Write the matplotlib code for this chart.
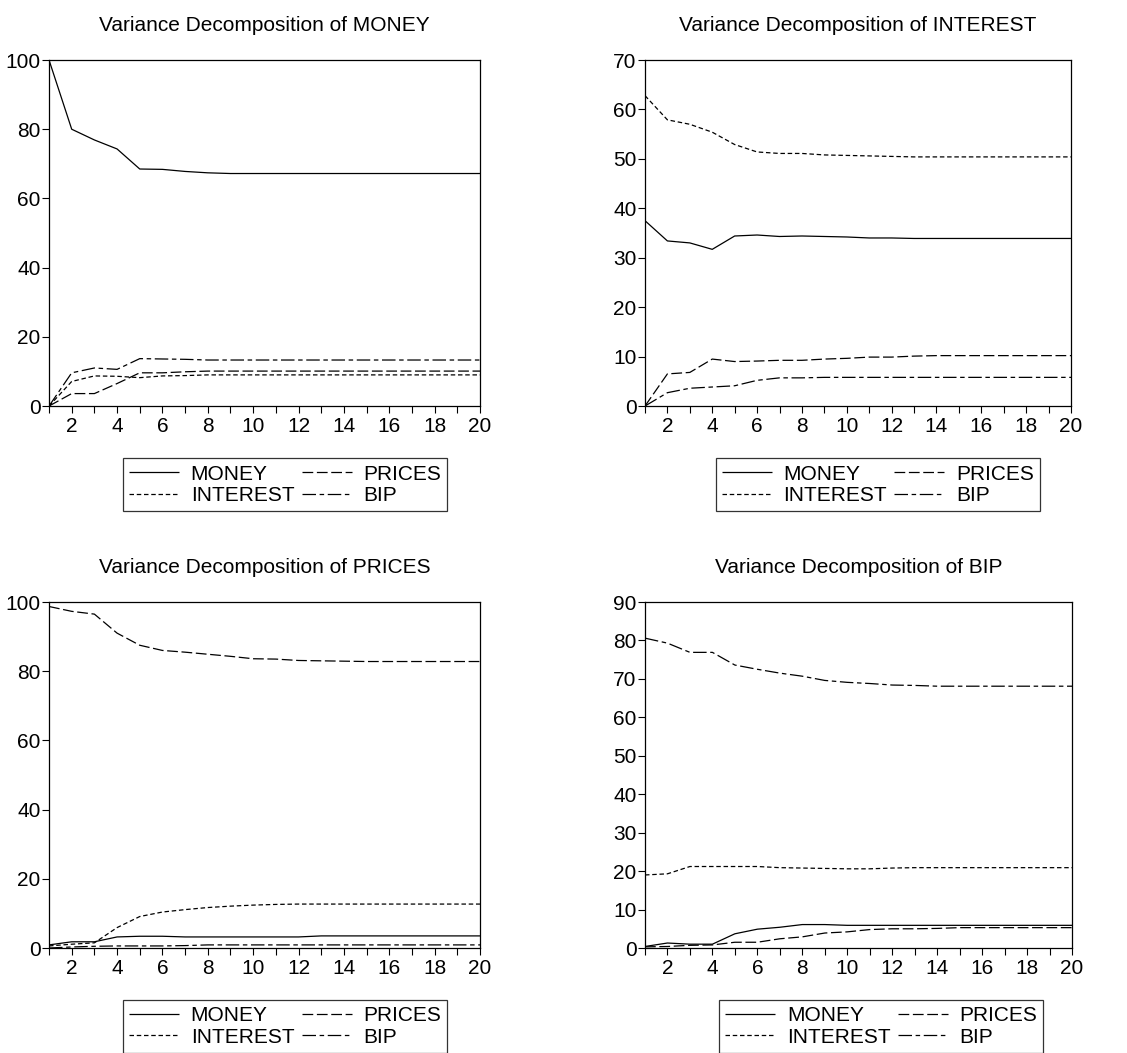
import numpy as np
import matplotlib
matplotlib.use("Agg")
import matplotlib.pyplot as plt

plt.rcParams['font.family'] = ['Liberation Sans', 'DejaVu Sans']
plt.rcParams['font.size'] = 15

# horizon periods
periods = list(range(1, 21))

# Variance decomposition of MONEY
money_money = [100, 80.0, 76.9, 74.3, 68.5, 68.4, 67.8, 67.4, 67.2, 67.2,
               67.2, 67.2, 67.2, 67.2, 67.2, 67.2, 67.2, 67.2, 67.2, 67.2]
money_interest = [0, 7.1, 8.7, 8.6, 8.2, 8.7, 8.8, 9.0, 9.0, 9.0,
                  9.0, 9.0, 9.0, 9.0, 9.0, 9.0, 9.0, 9.0, 9.0, 9.0]
money_prices = [0, 3.6, 3.6, 6.5, 9.6, 9.6, 9.9, 10.1, 10.1, 10.1,
                10.1, 10.1, 10.1, 10.1, 10.1, 10.1, 10.1, 10.1, 10.1, 10.1]
money_bip = [0, 9.6, 11.0, 10.6, 13.7, 13.6, 13.5, 13.3, 13.3, 13.3,
             13.3, 13.3, 13.3, 13.3, 13.3, 13.3, 13.3, 13.3, 13.3, 13.3]

# Variance decomposition of INTEREST
interest_money = [37.5, 33.4, 33.0, 31.7, 34.4, 34.6, 34.3, 34.4, 34.3, 34.2,
                  34.0, 34.0, 33.9, 33.9, 33.9, 33.9, 33.9, 33.9, 33.9, 33.9]
interest_interest = [62.8, 57.9, 57.0, 55.4, 52.9, 51.4, 51.1, 51.1, 50.8, 50.7,
                     50.6, 50.5, 50.4, 50.4, 50.4, 50.4, 50.4, 50.4, 50.4, 50.4]
interest_prices = [0, 6.5, 6.8, 9.5, 9.0, 9.1, 9.25, 9.25, 9.5, 9.65,
                   9.9, 9.9, 10.1, 10.2, 10.2, 10.2, 10.2, 10.2, 10.2, 10.2]
interest_bip = [0, 2.7, 3.6, 3.85, 4.1, 5.2, 5.7, 5.7, 5.8, 5.8,
                5.8, 5.8, 5.8, 5.8, 5.8, 5.8, 5.8, 5.8, 5.8, 5.8]

# Variance decomposition of PRICES
prices_money = [0.9, 1.8, 1.8, 3.2, 3.4, 3.4, 3.2, 3.2, 3.2, 3.2,
                3.2, 3.2, 3.5, 3.5, 3.5, 3.5, 3.5, 3.5, 3.5, 3.5]
prices_interest = [0.6, 1.1, 1.5, 5.9, 9.1, 10.4, 11.1, 11.7, 12.1, 12.4,
                   12.6, 12.7, 12.7, 12.7, 12.7, 12.7, 12.7, 12.7, 12.7, 12.7]
prices_prices = [98.7, 97.3, 96.5, 91.0, 87.5, 86.0, 85.5, 84.9, 84.3, 83.6,
                 83.5, 83.1, 83.0, 82.9, 82.8, 82.8, 82.8, 82.8, 82.8, 82.8]
prices_bip = [0.0, 0.3, 0.5, 0.6, 0.6, 0.6, 0.7, 0.9, 0.9, 0.9,
              0.9, 0.9, 0.9, 0.9, 0.9, 0.9, 0.9, 0.9, 0.9, 0.9]

# Variance decomposition of BIP
bip_money = [0.4, 1.3, 1.0, 1.0, 3.7, 4.9, 5.4, 6.1, 6.1, 5.9,
             5.9, 5.9, 5.9, 5.9, 5.9, 5.9, 5.9, 5.9, 5.9, 5.9]
bip_interest = [19.0, 19.3, 21.2, 21.2, 21.2, 21.2, 20.9, 20.8, 20.7, 20.6,
                20.6, 20.8, 20.9, 20.9, 20.9, 20.9, 20.9, 20.9, 20.9, 20.9]
bip_prices = [0.3, 0.4, 0.7, 0.8, 1.5, 1.5, 2.4, 2.9, 3.9, 4.2,
              4.8, 5.0, 5.0, 5.1, 5.3, 5.3, 5.3, 5.3, 5.3, 5.3]
bip_bip = [80.6, 79.3, 76.9, 76.9, 73.6, 72.5, 71.5, 70.7, 69.6, 69.1,
           68.8, 68.4, 68.3, 68.1, 68.1, 68.1, 68.1, 68.1, 68.1, 68.1]

names = ['MONEY', 'INTEREST', 'PRICES', 'BIP']
panels = [
    ('MONEY', [money_money, money_interest, money_prices, money_bip], 100, 20),
    ('INTEREST', [interest_money, interest_interest, interest_prices, interest_bip], 70, 10),
    ('PRICES', [prices_money, prices_interest, prices_prices, prices_bip], 100, 20),
    ('BIP', [bip_money, bip_interest, bip_prices, bip_bip], 90, 10),
]

# line dash patterns (points)
styles = [
    (0, ()),
    (0, (3.6, 2.2)),
    (0, (8.6, 2.9)),
    (0, (10.8, 2.9, 3.6, 2.9)),
]

# axes rectangles in figure fractions
rects = [
    [0.0435, 0.6144, 0.3824, 0.3286],
    [0.5723, 0.6144, 0.3780, 0.3286],
    [0.0435, 0.0997, 0.3824, 0.3286],
    [0.5723, 0.0997, 0.3789, 0.3286],
]
legend_pos = [(0.253, 0.5745), (0.779, 0.5745), (0.253, 0.060), (0.782, 0.060)]

fig = plt.figure(figsize=(11.27, 10.53), dpi=100)

for (title, series, ymax, ystep), rect, lpos in zip(panels, rects, legend_pos):
    ax = fig.add_axes(rect)
    for name, vals, ls in zip(names, series, styles):
        ax.plot(periods, vals, color='black', lw=0.9, linestyle=ls, label=name)
    ax.set_xlim(1, 20)
    ax.set_ylim(0, ymax)
    ax.set_xticks(range(2, 21, 2))
    ax.set_xticks(range(1, 21), minor=True)
    ax.set_yticks(np.arange(0, ymax + 1, ystep))
    ax.tick_params(axis='both', direction='out', length=5, width=0.8, pad=1, labelsize=15)
    ax.tick_params(axis='x', which='minor', direction='out', length=5, width=0.8)
    ax.tick_params(axis='x', pad=3)
    for sp in ax.spines.values():
        sp.set_linewidth(0.9)
    ax.set_title('Variance Decomposition of ' + title, fontsize=15, pad=21)
    leg = fig.legend(handles=ax.get_lines(), labels=names, ncol=2,
                     loc='upper center', bbox_to_anchor=lpos,
                     frameon=True, fancybox=False, edgecolor='black',
                     fontsize=15, handlelength=2.4, handletextpad=0.55,
                     columnspacing=0.35, labelspacing=0.1, borderpad=0.3)
    leg.get_frame().set_linewidth(0.9)

fig.savefig('out.png', dpi=100)
